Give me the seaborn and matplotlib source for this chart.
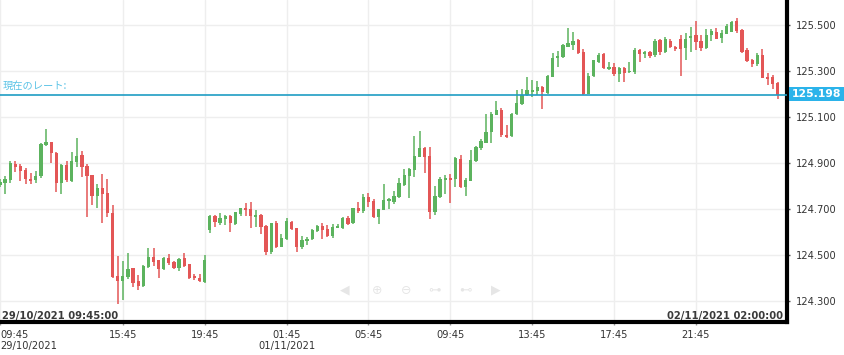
import numpy as np
import pandas as pd
import matplotlib
matplotlib.use("Agg")
import matplotlib.pyplot as plt
import seaborn as sns
from matplotlib.patches import Rectangle

# ---- data (15-minute candles, weekend gap removed) ----
opens = [124.806, 124.813, 124.827, 124.898, 124.890, 124.871, 124.832, 124.827, 124.846, 124.979,
         124.991, 124.945, 124.816, 124.893, 124.824, 124.907, 124.937, 124.888, 124.849, 124.758,
         124.791, 124.772, 124.683, 124.410, 124.390, 124.407, 124.443, 124.388, 124.368, 124.450,
         124.494, 124.479, 124.440, 124.487, 124.471, 124.446, 124.490, 124.461, 124.411, 124.403,
         124.385, 124.610, 124.671, 124.640, 124.658, 124.671, 124.637, 124.681, 124.704, 124.701,
         124.668, 124.675, 124.627, 124.516, 124.639, 124.537, 124.570, 124.645, 124.617, 124.537,
         124.563, 124.570, 124.607, 124.627, 124.616, 124.584, 124.620, 124.619, 124.662, 124.639,
         124.705, 124.693, 124.753, 124.734, 124.668, 124.697, 124.735, 124.732, 124.755, 124.806,
         124.845, 124.871, 124.929, 124.965, 124.932, 124.690, 124.755, 124.827, 124.836, 124.833,
         124.917, 124.796, 124.824, 124.911, 124.967, 124.990, 125.036, 125.111, 125.132, 125.023,
         125.019, 125.114, 125.157, 125.197, 125.212, 125.216, 125.233, 125.207, 125.277, 125.360,
         125.361, 125.407, 125.414, 125.436, 125.385, 125.201, 125.280, 125.342, 125.374, 125.309,
         125.320, 125.288, 125.313, 125.297, 125.297, 125.393, 125.374, 125.385, 125.371, 125.436,
         125.383, 125.432, 125.407, 125.440, 125.403, 125.446, 125.457, 125.432, 125.400, 125.457,
         125.470, 125.443, 125.461, 125.472, 125.519, 125.479, 125.393, 125.349, 125.330, 125.371,
         125.276, 125.276, 125.248]
highs = [124.830, 124.846, 124.910, 124.911, 124.898, 124.881, 124.859, 124.866, 124.987, 125.048,
         124.994, 124.948, 124.896, 124.910, 124.948, 125.009, 124.952, 124.896, 124.849, 124.809,
         124.852, 124.830, 124.717, 124.497, 124.474, 124.509, 124.446, 124.414, 124.458, 124.530,
         124.530, 124.479, 124.494, 124.504, 124.475, 124.490, 124.510, 124.461, 124.419, 124.417,
         124.500, 124.675, 124.675, 124.685, 124.675, 124.675, 124.690, 124.707, 124.726, 124.730,
         124.697, 124.678, 124.632, 124.642, 124.649, 124.592, 124.661, 124.650, 124.620, 124.584,
         124.578, 124.615, 124.633, 124.639, 124.630, 124.635, 124.638, 124.668, 124.671, 124.704,
         124.733, 124.767, 124.770, 124.743, 124.703, 124.810, 124.750, 124.781, 124.835, 124.874,
         124.881, 125.019, 125.040, 124.972, 124.972, 124.801, 124.840, 124.849, 124.853, 124.929,
         124.934, 124.835, 124.958, 124.974, 125.007, 125.115, 125.124, 125.172, 125.139, 125.067,
         125.120, 125.219, 125.222, 125.277, 125.262, 125.259, 125.236, 125.285, 125.378, 125.389,
         125.420, 125.487, 125.472, 125.440, 125.396, 125.294, 125.350, 125.380, 125.378, 125.340,
         125.337, 125.320, 125.318, 125.342, 125.400, 125.396, 125.390, 125.390, 125.440, 125.440,
         125.450, 125.440, 125.410, 125.458, 125.465, 125.494, 125.518, 125.457, 125.483, 125.483,
         125.490, 125.480, 125.505, 125.520, 125.530, 125.485, 125.400, 125.355, 125.380, 125.397,
         125.291, 125.284, 125.255]
lows = [124.798, 124.766, 124.813, 124.863, 124.824, 124.810, 124.809, 124.813, 124.837, 124.975,
        124.900, 124.774, 124.765, 124.817, 124.817, 124.885, 124.842, 124.668, 124.719, 124.707,
        124.639, 124.668, 124.401, 124.288, 124.306, 124.398, 124.363, 124.349, 124.363, 124.446,
        124.453, 124.403, 124.436, 124.458, 124.440, 124.432, 124.450, 124.395, 124.391, 124.382,
        124.378, 124.596, 124.624, 124.630, 124.630, 124.603, 124.630, 124.672, 124.672, 124.617,
        124.624, 124.591, 124.501, 124.505, 124.533, 124.535, 124.566, 124.610, 124.516, 124.526,
        124.545, 124.566, 124.603, 124.570, 124.581, 124.577, 124.617, 124.615, 124.632, 124.635,
        124.685, 124.685, 124.711, 124.663, 124.636, 124.697, 124.700, 124.722, 124.748, 124.801,
        124.748, 124.839, 124.926, 124.859, 124.656, 124.675, 124.750, 124.767, 124.728, 124.796,
        124.791, 124.758, 124.824, 124.906, 124.960, 124.987, 124.990, 125.110, 125.016, 125.009,
        125.015, 125.110, 125.153, 125.193, 125.190, 125.197, 125.135, 125.200, 125.274, 125.320,
        125.360, 125.404, 125.393, 125.375, 125.197, 125.201, 125.276, 125.338, 125.309, 125.305,
        125.280, 125.255, 125.255, 125.291, 125.290, 125.342, 125.360, 125.360, 125.364, 125.370,
        125.380, 125.400, 125.390, 125.281, 125.349, 125.385, 125.392, 125.388, 125.396, 125.432,
        125.440, 125.422, 125.461, 125.470, 125.465, 125.380, 125.340, 125.320, 125.325, 125.269,
        125.240, 125.223, 125.179]
closes = [124.819, 124.832, 124.903, 124.885, 124.868, 124.830, 124.824, 124.846, 124.984, 124.991,
          124.943, 124.816, 124.893, 124.827, 124.910, 124.932, 124.885, 124.846, 124.758, 124.791,
          124.766, 124.685, 124.407, 124.390, 124.410, 124.440, 124.381, 124.368, 124.453, 124.494,
          124.472, 124.440, 124.487, 124.468, 124.446, 124.485, 124.453, 124.403, 124.400, 124.388,
          124.479, 124.671, 124.644, 124.662, 124.671, 124.639, 124.687, 124.704, 124.697, 124.672,
          124.675, 124.624, 124.516, 124.639, 124.537, 124.574, 124.650, 124.613, 124.535, 124.566,
          124.571, 124.610, 124.627, 124.610, 124.584, 124.622, 124.627, 124.662, 124.636, 124.704,
          124.694, 124.755, 124.730, 124.668, 124.700, 124.740, 124.745, 124.758, 124.813, 124.848,
          124.874, 124.932, 124.965, 124.929, 124.690, 124.758, 124.833, 124.836, 124.827, 124.923,
          124.796, 124.827, 124.914, 124.969, 124.998, 125.037, 125.114, 125.132, 125.023, 125.016,
          125.114, 125.161, 125.197, 125.219, 125.219, 125.233, 125.211, 125.280, 125.359, 125.368,
          125.413, 125.422, 125.433, 125.378, 125.201, 125.280, 125.349, 125.371, 125.313, 125.320,
          125.287, 125.313, 125.294, 125.303, 125.393, 125.374, 125.384, 125.366, 125.432, 125.383,
          125.439, 125.407, 125.397, 125.397, 125.440, 125.453, 125.429, 125.400, 125.457, 125.475,
          125.440, 125.465, 125.498, 125.516, 125.475, 125.383, 125.345, 125.330, 125.371, 125.272,
          125.266, 125.243, 125.198]

tick_index = [0, 24, 40, 56, 72, 88, 104, 120, 136]
tick_labels = ["09:45\n29/10/2021", "15:45", "19:45", "01:45\n01/11/2021", "05:45",
               "09:45", "13:45", "17:45", "21:45"]
y_ticks = [124.3, 124.5, 124.7, 124.9, 125.1, 125.3, 125.5]
current_rate = 125.198
start_label = "29/10/2021 09:45:00"
end_label = "02/11/2021 02:00:00"

GREEN = "#5cb35e"
RED = "#e35656"
RATE = "#1f9dc4"

df = pd.DataFrame({"idx": np.arange(len(opens)), "open": opens, "high": highs,
                   "low": lows, "close": closes})
df["up"] = df["close"] >= df["open"]
df["color"] = np.where(df["up"], GREEN, RED)
df["body_lo"] = df[["open", "close"]].min(axis=1)
df["body_h"] = (df["close"] - df["open"]).abs().clip(lower=0.006)

sns.set_theme(style="white")
plt.rcParams['font.family'] = ['DejaVu Sans', 'Noto Sans CJK JP']

W, H = 844, 355
fig = plt.figure(figsize=(W / 100, H / 100), dpi=100)
ax = fig.add_axes([0, 33 / H, 787 / W, 322 / H])

ax.grid(True, color="#eeeeee", lw=1)
ax.set_axisbelow(True)

ax.vlines(df["idx"], df["low"], df["high"], colors=df["color"], lw=1.1, zorder=2)
ax.bar(df["idx"], df["body_h"], bottom=df["body_lo"], width=0.64,
       color=df["color"], lw=0, zorder=3)

ax.axhline(current_rate, color=RATE, lw=1.2, zorder=4)
ax.annotate("現在のレート:", xy=(0.004, current_rate), xycoords=ax.get_yaxis_transform(),
            xytext=(0, 3), textcoords="offset points", va="bottom", ha="left",
            fontsize=7.4, color="#5bc3e6", family=["Noto Sans CJK JP", "DejaVu Sans"])

ax.set_xlim(0.2, 153.8)
ax.set_ylim(124.210, 125.610)

ax.yaxis.tick_right()
ax.set_yticks(y_ticks)
ax.set_yticklabels([f"{v:.3f}" for v in y_ticks])
ax.tick_params(axis="y", length=2.5, width=1, color="#555555", pad=4,
               labelsize=7.1, labelcolor="#333333", right=True, left=False)
ax.set_xticks(tick_index)
ax.set_xticklabels(tick_labels)
ax.tick_params(axis="x", length=2.5, width=1, color="#999999", pad=3,
               labelsize=7.1, labelcolor="#333333", bottom=True)
first = ax.get_xticklabels()[0]
first.set_horizontalalignment("left")
first.set_multialignment("left")

for s in ["left", "top"]:
    ax.spines[s].set_visible(False)
for s in ["right", "bottom"]:
    ax.spines[s].set_color("black")
    ax.spines[s].set_linewidth(3)

ax.text(2 / 787, 6 / 322, start_label, transform=ax.transAxes, ha="left", va="center",
        fontsize=7.2, fontweight="bold", color="#3a3a3a")
ax.text(783 / 787, 6 / 322, end_label, transform=ax.transAxes, ha="right", va="center",
        fontsize=7.2, fontweight="bold", color="#3a3a3a")

# faint navigation icons
for xp, sym in [(345, "◀"), (377, "⊕"), (406, "⊖"), (435, "⊶"), (465, "⊷"), (496, "▶")]:
    ax.text(xp / 787, 32 / 322, sym, transform=ax.transAxes, ha="center", va="center",
            fontsize=9, color="#e6e6e6")

# current-rate box on right axis
fig.patches.append(Rectangle((789 / W, (H - 101) / H), 55 / W, 14 / H,
                             transform=fig.transFigure, facecolor="#2bb3ea",
                             edgecolor="none"))
fig.text(816.5 / W, (H - 94) / H, f"{current_rate:.3f}", ha="center", va="center",
         fontsize=7.8, fontweight="bold", color="white")

fig.savefig("out.png", dpi=100)
